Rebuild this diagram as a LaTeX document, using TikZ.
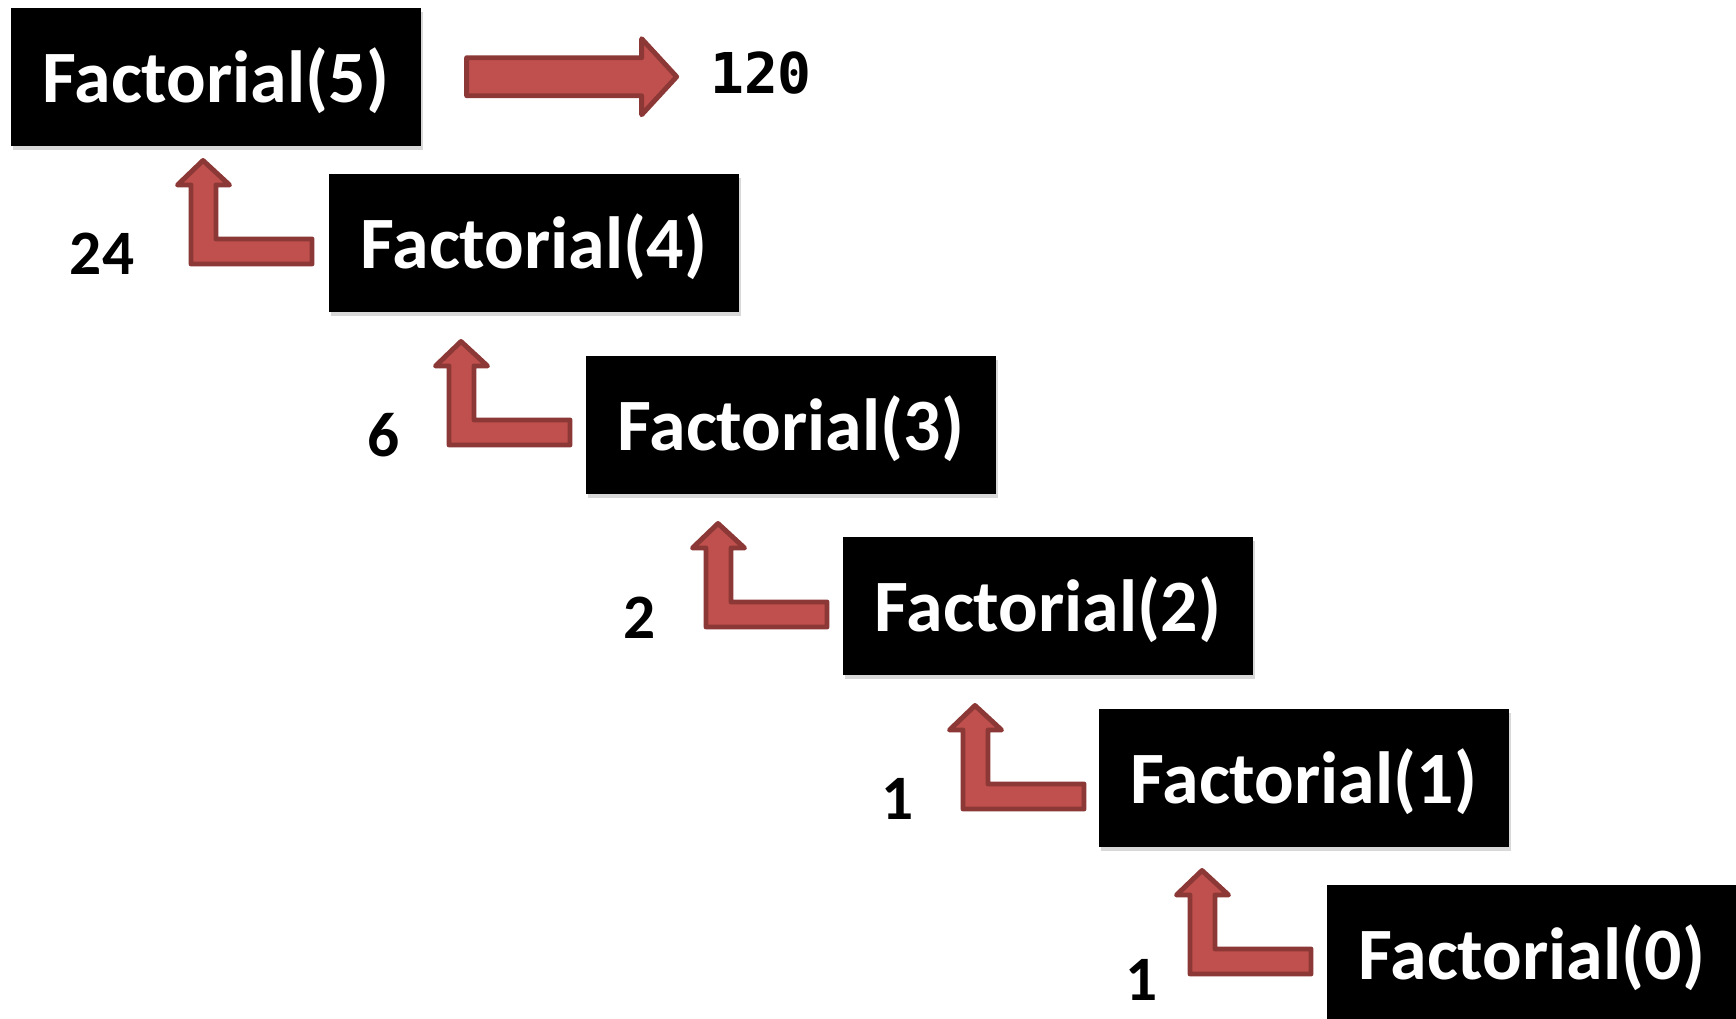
\documentclass[tikz,border=0pt]{standalone}
\usepackage{fontspec}
\setmainfont{Carlito}
\newfontfamily\monofam{DejaVu Sans Mono}
\usetikzlibrary{calc,shadows}
\definecolor{arrfill}{HTML}{C0504D}
\definecolor{arrline}{HTML}{8C3836}
\tikzset{
  callbox/.style={fill=black, text=white, font=\bfseries\fontsize{21}{25}\selectfont,
    minimum width=4.1cm, minimum height=1.38cm, inner sep=0pt, anchor=north west,
    text height=0.6cm, text depth=0.08cm,
    drop shadow={shadow xshift=0.02cm, shadow yshift=-0.04cm, opacity=0.3}},
  blockarrow/.style={fill=arrfill, draw=arrline, line width=1.4pt, line join=round},
  retval/.style={font=\bfseries\fontsize{18}{22}\selectfont, text=black, inner sep=0pt},
  result/.style={font=\monofam\bfseries\fontsize{16}{20}\selectfont, text=black, inner sep=0pt},
  bentarrow/.pic={\path[blockarrow] (0,2.5) -- (26.5,27) -- (13,27) -- (13,81) -- (109,81)
      -- (109,106) -- (-12,106) -- (-12,27) -- (-25.5,27) -- cycle;},
  rightarrow/.pic={\path[blockarrow] (0,-19) -- (175,-19) -- (175,-38) -- (210,0)
      -- (175,38) -- (175,19) -- (0,19) -- cycle;}
}
\begin{document}
\begin{tikzpicture}[x=0.01cm,y=-0.01cm]
  \clip (0,0) rectangle (1736,1019);
  \fill[white] (0,0) rectangle (1736,1019);

  \node[callbox] (f5) at (10,7)    {Factorial(5)};
  \node[callbox] (f4) at (328,173) {Factorial(4)};
  \node[callbox] (f3) at (585,355) {Factorial(3)};
  \node[callbox] (f2) at (842,536) {Factorial(2)};
  \node[callbox] (f1) at (1098,708) {Factorial(1)};
  \node[callbox] (f0) at (1326,884) {Factorial(0)};

  \pic at ($(f5.east)+(45,0)$) {rightarrow};
  \node[result] (res) at (761,73) {120};

  \pic at ($(f4.north west)+(-125,-15)$) {bentarrow};
  \pic at ($(f3.north west)+(-124,-16)$) {bentarrow};
  \pic at ($(f2.north west)+(-124,-15)$) {bentarrow};
  \pic at ($(f1.north west)+(-123,-5)$) {bentarrow};
  \pic at ($(f0.north west)+(-124,-16)$) {bentarrow};

  \node[retval] (r4) at (102,254) {24};
  \node[retval] (r3) at (384,435) {6};
  \node[retval] (r2) at (640,618) {2};
  \node[retval] (r1) at (898,799) {1};
  \node[retval] (r0) at (1142,980) {1};
\end{tikzpicture}
\end{document}
